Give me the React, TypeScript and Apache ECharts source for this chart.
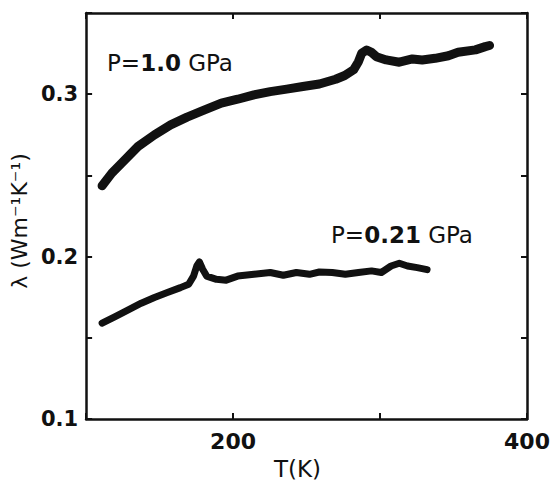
import React, { useEffect, useRef } from "react";
import * as echarts from "echarts";

// P = 1.0 GPa
const temp1 = [110.9, 117.5, 124.2, 135.3, 146.5, 157.5, 168.7, 179.8, 192, 203.1, 214.2, 225.3, 236.5, 247.5, 258.7, 269.8, 276, 282, 285.3, 287.5, 290.9, 294.2, 297.5, 304.2, 313.1, 322, 328.7, 337.5, 346.5, 353.1, 364.9, 371.6, 374.5];
const lambda1 = [0.2436, 0.2514, 0.2576, 0.2678, 0.275, 0.2811, 0.2859, 0.29, 0.2945, 0.2969, 0.2996, 0.3016, 0.3031, 0.3047, 0.3063, 0.3092, 0.3115, 0.315, 0.32, 0.3252, 0.3272, 0.3258, 0.3231, 0.3211, 0.3197, 0.3217, 0.3211, 0.3221, 0.3237, 0.3258, 0.3273, 0.3293, 0.33];

// P = 0.21 GPa
const temp2 = [110.9, 119.8, 128.7, 137.5, 146.5, 155.3, 164.2, 169.8, 173.1, 175.3, 177.1, 179.3, 182, 188.7, 195.3, 203.1, 214.2, 225.3, 234.2, 243.1, 252, 258.7, 267.5, 276.4, 285.3, 294.2, 300.9, 307.5, 313.1, 318.7, 325.3, 332];
const lambda2 = [0.159, 0.1631, 0.1672, 0.1713, 0.1748, 0.1779, 0.1809, 0.183, 0.188, 0.1942, 0.1967, 0.1922, 0.188, 0.186, 0.1855, 0.188, 0.1891, 0.1902, 0.1885, 0.1902, 0.1891, 0.1905, 0.1902, 0.1891, 0.1902, 0.1912, 0.1902, 0.1942, 0.1959, 0.1942, 0.1932, 0.192];

const xTickLabels = ["200", "400"];
const yTickLabels = ["0.1", "0.2", "0.3"];

const FONT = "'DejaVu Sans', 'Liberation Sans', Arial, sans-serif";

export default function App() {
  const ref = useRef<HTMLDivElement>(null);
  useEffect(() => {
    if (!ref.current) return;
    const chart = echarts.init(ref.current, undefined, { renderer: "svg" });
    const axisLine = { show: true, lineStyle: { color: "#111", width: 2.5 } };
    const axisTick = { show: true, inside: true, length: 6, lineStyle: { color: "#111", width: 2 } };
    const rich = {
      a: { fontFamily: FONT, fontSize: 23, fill: "#111" },
      b: { fontFamily: FONT, fontSize: 23, fontWeight: "bold", fill: "#111" },
    };
    chart.setOption({
      animation: false,
      backgroundColor: "#fff",
      grid: { left: 77, right: 27, top: 13, bottom: 65 },
      xAxis: [
        {
          type: "value",
          min: 100,
          max: 400,
          interval: 100,
          position: "bottom",
          axisLine,
          axisTick,
          splitLine: { show: false },
          axisLabel: {
            margin: 11,
            color: "#111",
            fontFamily: FONT,
            fontWeight: "bold",
            fontSize: 22,
            formatter: (v: number) => (xTickLabels.includes(String(Math.round(v))) ? String(Math.round(v)) : ""),
          },
          name: "T(K)",
          nameLocation: "middle",
          nameGap: 38,
          nameTextStyle: { color: "#111", fontFamily: FONT, fontSize: 23, padding: [0, 18, 0, 0] },
        },
        {
          type: "value",
          min: 100,
          max: 400,
          interval: 100,
          position: "top",
          axisLine,
          axisTick,
          splitLine: { show: false },
          axisLabel: { show: false },
        },
      ],
      yAxis: [
        {
          type: "value",
          min: 0.1,
          max: 0.35,
          interval: 0.05,
          position: "left",
          axisLine,
          axisTick,
          splitLine: { show: false },
          axisLabel: {
            margin: 8,
            color: "#111",
            fontFamily: FONT,
            fontWeight: "bold",
            fontSize: 21,
            formatter: (v: number) => {
              const s = v.toFixed(1);
              return Math.abs(v * 10 - Math.round(v * 10)) < 1e-6 && yTickLabels.includes(s) ? s : "";
            },
          },
          name: "λ (Wm⁻¹K⁻¹)",
          nameLocation: "middle",
          nameRotate: 90,
          nameGap: 44,
          nameTextStyle: { color: "#111", fontFamily: FONT, fontSize: 22, padding: [0, 10, 0, 0] },
        },
        {
          type: "value",
          min: 0.1,
          max: 0.35,
          interval: 0.05,
          position: "right",
          axisLine,
          axisTick,
          splitLine: { show: false },
          axisLabel: { show: false },
        },
      ],
      graphic: [
        {
          type: "text",
          left: 107,
          top: 51,
          style: { text: "{a|P=}{b|1.0}{a| GPa}", rich },
        },
        {
          type: "text",
          left: 331,
          top: 223,
          style: { text: "{a|P=}{b|0.21}{a| GPa}", rich },
        },
      ],
      series: [
        {
          name: "P=1.0 GPa",
          type: "line",
          xAxisIndex: 0,
          yAxisIndex: 0,
          showSymbol: false,
          symbol: "none",
          data: temp1.map((t, i) => [t, lambda1[i]]),
          lineStyle: { color: "#111", width: 9, join: "round", cap: "round" },
        },
        {
          name: "P=0.21 GPa",
          type: "line",
          xAxisIndex: 0,
          yAxisIndex: 0,
          showSymbol: false,
          symbol: "none",
          data: temp2.map((t, i) => [t, lambda2[i]]),
          lineStyle: { color: "#111", width: 7, join: "round", cap: "round" },
        },
      ],
    });
    return () => chart.dispose();
  }, []);
  return (
    <div
      ref={ref}
      style={{ position: "fixed", left: 0, top: 0, width: 554, height: 485, background: "#fff" }}
    />
  );
}
